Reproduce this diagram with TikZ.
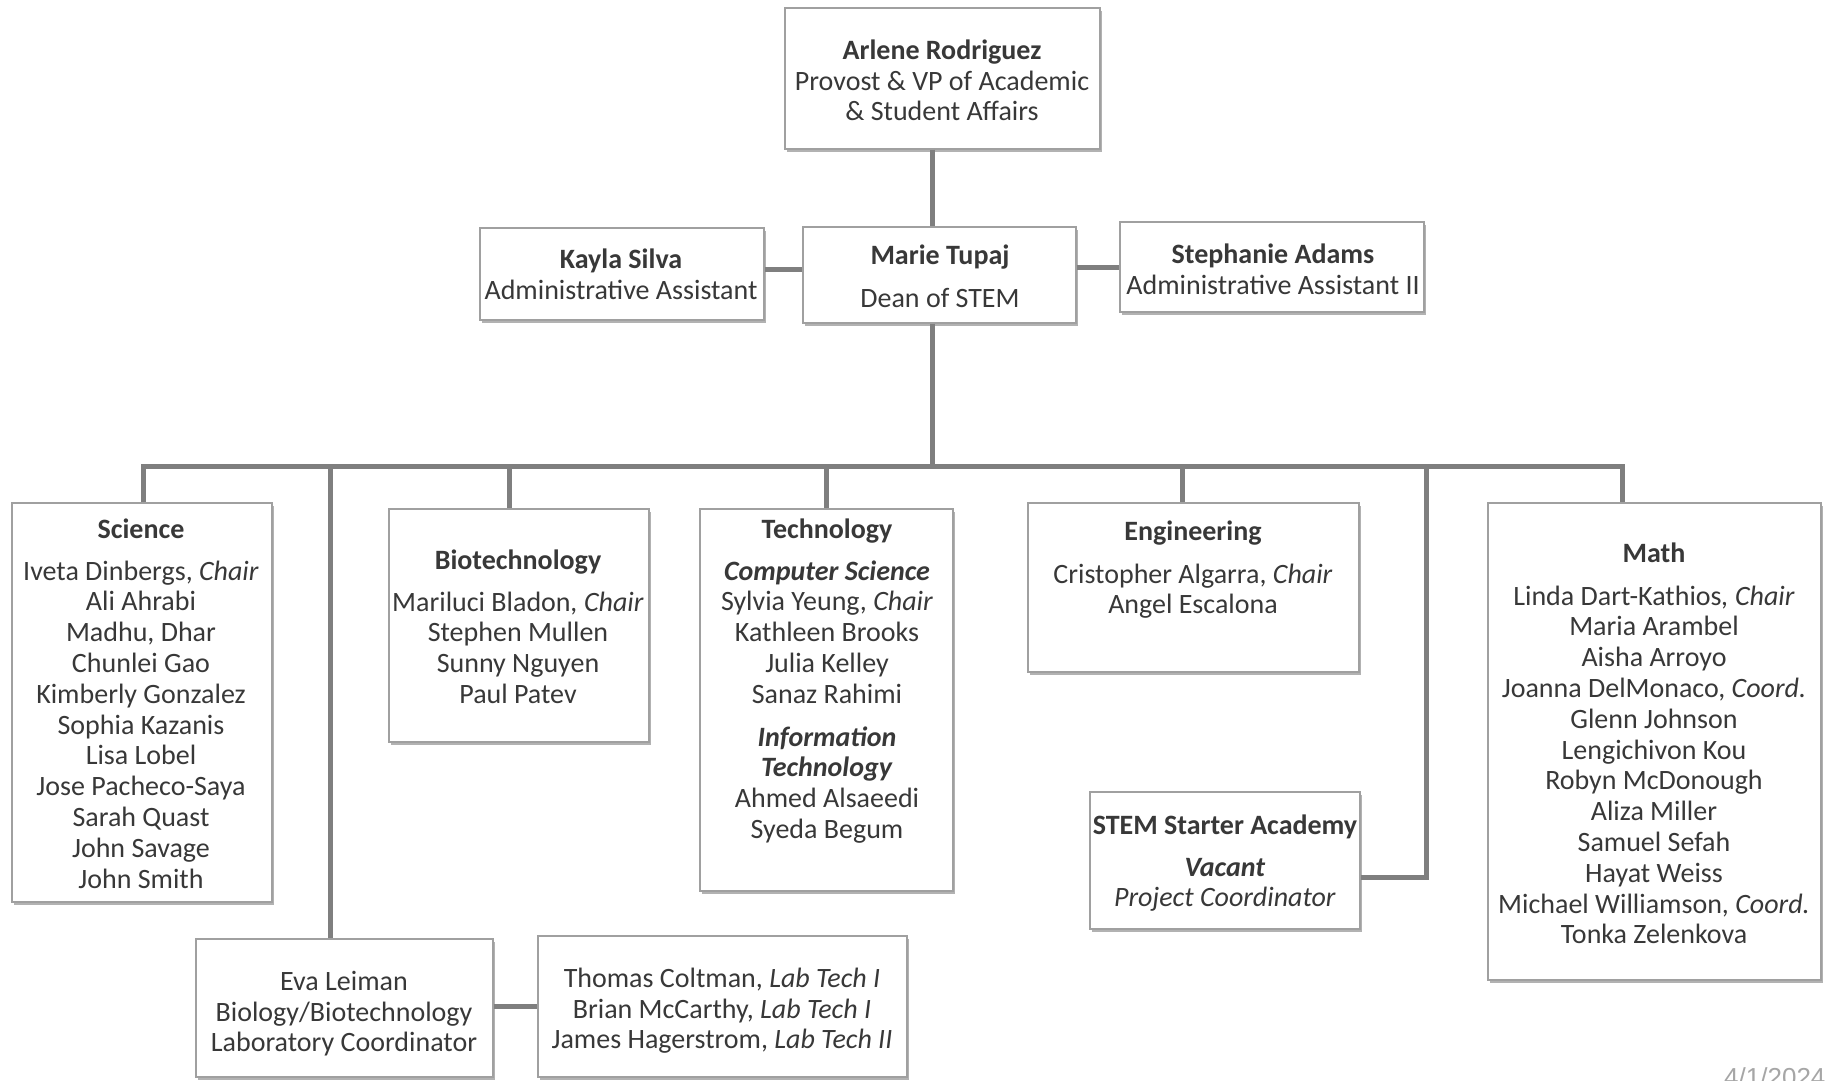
\documentclass[tikz,border=0pt]{standalone}
\usepackage{fontspec}
\setmainfont{Carlito}
\newfontfamily\datefont{Liberation Sans}
\usetikzlibrary{shadows}
\definecolor{txtc}{HTML}{383838}
\definecolor{linec}{HTML}{7F7F7F}
\definecolor{boxc}{HTML}{A0A0A0}
\tikzset{
  box/.style={draw=boxc, line width=1.3pt, fill=white, inner sep=0pt,
    drop shadow={shadow xshift=2pt, shadow yshift=-3pt, opacity=0.3, fill=black}},
  txt/.style={anchor=north, inner sep=0pt, align=center, text=txtc, yshift=-2.5pt,
    font=\fontsize{28}{30.8}\selectfont},
  conn/.style={draw=linec, line width=5pt, line join=miter}
}
\newcommand\sv{\strut}
\begin{document}
\begin{tikzpicture}[x=1pt,y=-1pt]
\useasboundingbox (0,0) rectangle (1826,1080);
\clip (0,0) rectangle (1826,1080);
\fill[white] (0,0) rectangle (1826,1080);

% boxes
\node[box, minimum width=315, minimum height=141] (top) at (942.5,78.5) {};
\node[box, minimum width=284, minimum height=92] (kayla) at (622,274) {};
\node[box, minimum width=273, minimum height=96] (marie) at (939.5,275) {};
\node[box, minimum width=304, minimum height=90] (steph) at (1272,267) {};
\node[box, minimum width=260, minimum height=399] (sci) at (142,702.5) {};
\node[box, minimum width=260, minimum height=233] (bio) at (519,625.5) {};
\node[box, minimum width=253, minimum height=382] (tech) at (826.5,700) {};
\node[box, minimum width=331, minimum height=169] (eng) at (1193.5,587.5) {};
\node[box, minimum width=333, minimum height=477] (math) at (1654.5,741.5) {};
\node[box, minimum width=270, minimum height=137] (stem) at (1225,860.5) {};
\node[box, minimum width=297, minimum height=138] (eva) at (344.5,1008) {};
\node[box, minimum width=369, minimum height=141] (lab) at (722.5,1006.5) {};

% texts
\node[txt] (ttop) at (942,35) {\sv\textbf{Arlene Rodriguez}\\\sv Provost \& VP of Academic\\\sv\& Student Affairs};
\node[txt] (tkayla) at (621,244) {\sv\textbf{Kayla Silva}\\\sv Administrative Assistant};
\node[txt] (tmarie) at (940,240) {\sv\textbf{Marie Tupaj}\\[12pt]\sv Dean of STEM};
\node[txt] (tsteph) at (1273,239) {\sv\textbf{Stephanie Adams}\\\sv Administrative Assistant II};
\node[txt] (tsci) at (141,514) {\sv\textbf{Science}\\[11pt]\sv Iveta Dinbergs, \textit{Chair}\\\sv Ali Ahrabi\\\sv Madhu, Dhar\\\sv Chunlei Gao\\\sv Kimberly Gonzalez\\\sv Sophia Kazanis\\\sv Lisa Lobel\\\sv Jose Pacheco-Saya\\\sv Sarah Quast\\\sv John Savage\\\sv John Smith};
\node[txt] (tbio) at (518,545) {\sv\textbf{Biotechnology}\\[11pt]\sv Mariluci Bladon\textit{, Chair}\\\sv Stephen Mullen\\\sv Sunny Nguyen\\\sv Paul Patev};
\node[txt] (ttech) at (827,514) {\sv\textbf{Technology}\\[11pt]\sv\textbf{\textit{Computer Science}}\\\sv Sylvia Yeung, \textit{Chair}\\\sv Kathleen Brooks\\\sv Julia Kelley\\\sv Sanaz Rahimi\\[12pt]\sv\textbf{\textit{Information}}\\\sv\textbf{\textit{Technology}}\\\sv Ahmed Alsaeedi\\\sv Syeda Begum};
\node[txt] (teng) at (1193,516) {\sv\textbf{Engineering}\\[12pt]\sv Cristopher Algarra, \textit{Chair}\\\sv Angel Escalona};
\node[txt] (tstem) at (1225,810) {\sv\textbf{STEM Starter Academy}\\[11pt]\sv\textbf{\textit{Vacant}}\\\sv\textit{Project Coordinator}};
\node[txt] (tmath) at (1654,538) {\sv\textbf{Math}\\[12pt]\sv Linda Dart-Kathios\textit{, Chair}\\\sv Maria Arambel\\\sv Aisha Arroyo\\\sv Joanna DelMonaco, \textit{Coord.}\\\sv Glenn Johnson\\\sv Lengichivon Kou\\\sv Robyn McDonough\\\sv Aliza Miller\\\sv Samuel Sefah\\\sv Hayat Weiss\\\sv Michael Williamson, \textit{Coord.}\\\sv Tonka Zelenkova};
\node[txt] (teva) at (344,966) {\sv Eva Leiman\\\sv Biology/Biotechnology\\\sv Laboratory Coordinator};
\node[txt] (tlab) at (722,963) {\sv Thomas Coltman, \textit{Lab Tech I}\\\sv Brian McCarthy, \textit{Lab Tech I}\\\sv James Hagerstrom, \textit{Lab Tech II}};

% junction coordinates
\coordinate (hub) at (932,466);
\coordinate (jL) at (143,466);
\coordinate (jR) at (1622,466);
\coordinate (jB) at (509,466);
\coordinate (jT) at (826,466);
\coordinate (jE) at (1182,466);
\coordinate (jV) at (330,466);
\coordinate (jS) at (1426,466);
\coordinate (sk) at (1426,877);
\coordinate (ka) at (700,269);
\coordinate (st) at (1100,267);
\coordinate (el) at (515,1006);

% connectors
\draw[conn] (hub |- top.south) -- (hub |- marie.north);
\draw[conn] (hub |- marie.south) -- (hub);
\draw[conn] (jL |- sci.north) -- (jL) -- (jR) -- (jR |- math.north);
\draw[conn] (jB) -- (jB |- bio.north);
\draw[conn] (jT) -- (jT |- tech.north);
\draw[conn] (jE) -- (jE |- eng.north);
\draw[conn] (jV) -- (jV |- eva.north);
\draw[conn] (jS) -- (sk) -- (sk -| stem.east);
\draw[conn] (ka -| kayla.east) -- (ka -| marie.west);
\draw[conn] (st -| marie.east) -- (st -| steph.west);
\draw[conn] (el -| eva.east) -- (el -| lab.west);

% date (cut off at the page edge, as in the reference)
\node[anchor=north west, inner sep=0pt, text=gray!70, font=\datefont\fontsize{26}{30}\selectfont] (date) at (1724,1067) {4/1/2024};
\end{tikzpicture}
\end{document}
